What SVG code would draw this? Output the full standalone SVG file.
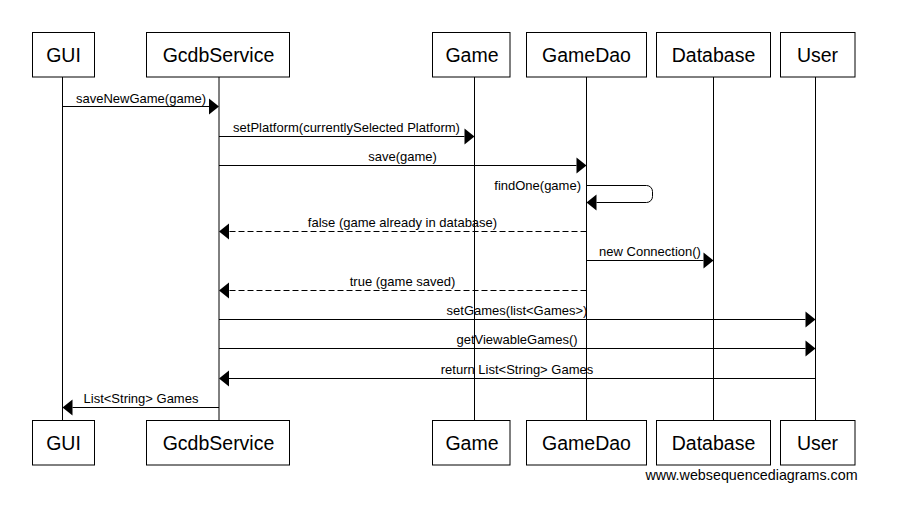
<svg xmlns="http://www.w3.org/2000/svg" width="900" height="509" viewBox="0 0 900 509">
<style>
.box{fill:#fff;stroke:#000;stroke-width:1}
.life{stroke:#000;stroke-width:1}
.name{font-family:"Liberation Sans",Arial,sans-serif;font-size:19.5px;text-anchor:middle;fill:#000}
.msg{stroke:#000;stroke-width:1;fill:none}
.dash{stroke-dasharray:6,3}
.lbl{font-family:"Liberation Sans",Arial,sans-serif;font-size:13px;fill:#000;text-anchor:middle}
.head{fill:#000}
</style>
<rect width="900" height="509" fill="#fff"/>
<g id="lifelines">
<line class="life" x1="62.5" y1="77" x2="62.5" y2="420"/>
<line class="life" x1="219" y1="77" x2="219" y2="420"/>
<line class="life" x1="474.5" y1="77" x2="474.5" y2="420"/>
<line class="life" x1="586.5" y1="77" x2="586.5" y2="420"/>
<line class="life" x1="713.5" y1="77" x2="713.5" y2="420"/>
<line class="life" x1="815.5" y1="77" x2="815.5" y2="420"/>
</g>
<g id="GUI">
<rect class="box" x="32.5" y="32.5" width="62" height="44.5"/><text class="name" x="63.5" y="61.5">GUI</text>
<rect class="box" x="32.5" y="420.5" width="62" height="44.5"/><text class="name" x="63.5" y="449.5">GUI</text>
</g>
<g id="GcdbService">
<rect class="box" x="146.5" y="32.5" width="143" height="44.5"/><text class="name" x="218.5" y="61.5">GcdbService</text>
<rect class="box" x="146.5" y="420.5" width="143" height="44.5"/><text class="name" x="218.5" y="449.5">GcdbService</text>
</g>
<g id="Game">
<rect class="box" x="432.5" y="32.5" width="77.5" height="44.5"/><text class="name" x="472" y="61.5">Game</text>
<rect class="box" x="432.5" y="420.5" width="77.5" height="44.5"/><text class="name" x="472" y="449.5">Game</text>
</g>
<g id="GameDao">
<rect class="box" x="526.5" y="32.5" width="120" height="44.5"/><text class="name" x="586.5" y="61.5">GameDao</text>
<rect class="box" x="526.5" y="420.5" width="120" height="44.5"/><text class="name" x="586.5" y="449.5">GameDao</text>
</g>
<g id="Database">
<rect class="box" x="656.5" y="32.5" width="114" height="44.5"/><text class="name" x="713.5" y="61.5">Database</text>
<rect class="box" x="656.5" y="420.5" width="114" height="44.5"/><text class="name" x="713.5" y="449.5">Database</text>
</g>
<g id="User">
<rect class="box" x="780.5" y="32.5" width="74.5" height="44.5"/><text class="name" x="817.5" y="61.5">User</text>
<rect class="box" x="780.5" y="420.5" width="74.5" height="44.5"/><text class="name" x="817.5" y="449.5">User</text>
</g>
<g id="connectors">
<line class="msg" x1="62.5" y1="106.5" x2="209" y2="106.5"/><polygon class="head" points="219,106.5 209,98.5 209,114.5"/>
<text class="lbl" x="141" y="103">saveNewGame(game)</text>
<line class="msg" x1="219" y1="136.5" x2="464.5" y2="136.5"/><polygon class="head" points="474.5,136.5 464.5,128.5 464.5,144.5"/>
<text class="lbl" x="346.5" y="132">setPlatform(currentlySelected Platform)</text>
<line class="msg" x1="219" y1="165.5" x2="576.5" y2="165.5"/><polygon class="head" points="586.5,165.5 576.5,157.5 576.5,173.5"/>
<text class="lbl" x="402.5" y="161">save(game)</text>
<path class="msg" d="M586.5,185.5 H646.5 A6,6 0 0 1 652.5,191.5 V196.5 A6,6 0 0 1 646.5,202.5 H596.5"/><polygon class="head" points="586.5,202.5 596.5,194.5 596.5,210.5"/>
<text class="lbl" x="581" y="190" style="text-anchor:end">findOne(game)</text>
<line class="msg dash" x1="586.5" y1="231.5" x2="229" y2="231.5"/><polygon class="head" points="219,231.5 229,223.5 229,239.5"/>
<text class="lbl" x="402.5" y="227">false (game already in database)</text>
<line class="msg" x1="586.5" y1="260.5" x2="703.5" y2="260.5"/><polygon class="head" points="713.5,260.5 703.5,252.5 703.5,268.5"/>
<text class="lbl" x="650" y="256">new Connection()</text>
<line class="msg dash" x1="586.5" y1="290.5" x2="229" y2="290.5"/><polygon class="head" points="219,290.5 229,282.5 229,298.5"/>
<text class="lbl" x="402.5" y="286">true (game saved)</text>
<line class="msg" x1="219" y1="319.5" x2="805.5" y2="319.5"/><polygon class="head" points="815.5,319.5 805.5,311.5 805.5,327.5"/>
<text class="lbl" x="517" y="315">setGames(list&lt;Games&gt;)</text>
<line class="msg" x1="219" y1="348.5" x2="805.5" y2="348.5"/><polygon class="head" points="815.5,348.5 805.5,340.5 805.5,356.5"/>
<text class="lbl" x="517" y="344">getViewableGames()</text>
<line class="msg" x1="815.5" y1="378.5" x2="229" y2="378.5"/><polygon class="head" points="219,378.5 229,370.5 229,386.5"/>
<text class="lbl" x="517" y="374">return List&lt;String&gt; Games</text>
<line class="msg" x1="219" y1="407.5" x2="72.5" y2="407.5"/><polygon class="head" points="62.5,407.5 72.5,399.5 72.5,415.5"/>
<text class="lbl" x="141" y="403">List&lt;String&gt; Games</text>
</g>
<text x="751.5" y="480" style="font-family:'Liberation Sans',Arial,sans-serif;font-size:14.3px;text-anchor:middle;fill:#000">www.websequencediagrams.com</text>
</svg>
